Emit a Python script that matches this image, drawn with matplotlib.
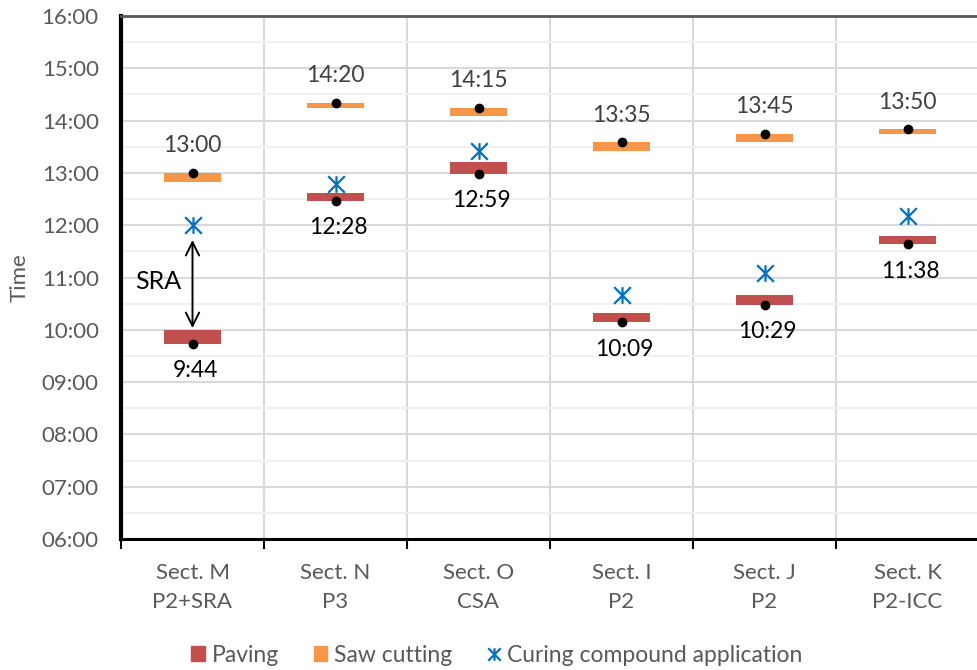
import matplotlib
matplotlib.use("Agg")
import matplotlib.pyplot as plt
from matplotlib.path import Path
from matplotlib.lines import Line2D
from matplotlib.patches import Patch

plt.rcParams['font.family'] = ['Lato', 'DejaVu Sans']

sections = ['Sect. M\nP2+SRA', 'Sect. N\nP3', 'Sect. O\nCSA', 'Sect. I\nP2', 'Sect. J\nP2', 'Sect. K\nP2-ICC']
paving = ['9:44', '12:28', '12:59', '10:09', '10:29', '11:38']
paving_top = ['10:00', '12:37', '13:12', '10:19', '10:40', '11:48']
saw = ['13:00', '14:20', '14:15', '13:35', '13:45', '13:50']
saw_bottom = ['12:50', '14:15', '14:05', '13:25', '13:35', '13:45']
curing = ['12:00', '12:47', '13:25', '10:40', '11:05', '12:11']
y_ticks = ['06:00', '07:00', '08:00', '09:00', '10:00', '11:00', '12:00',
           '13:00', '14:00', '15:00', '16:00']


def hours(s):
    h, m = s.split(':')
    return int(h) + int(m) / 60


def main():
    fig = plt.figure(figsize=(9.77, 6.7), dpi=100)
    ax = fig.add_axes([121 / 977, 131 / 670, 858 / 977, 523 / 670])

    x = [i + 0.5 for i in range(len(sections))]
    pv = [hours(s) for s in paving]
    pt = [hours(s) for s in paving_top]
    sw = [hours(s) for s in saw]
    sb = [hours(s) for s in saw_bottom]
    cu = [hours(s) for s in curing]

    red = '#C0504D'
    orange = '#F79646'
    blue = '#0070C0'

    ax.bar(x, [t - b for t, b in zip(pt, pv)], bottom=pv, width=0.4, color=red, zorder=3)
    ax.bar(x, [t - b for t, b in zip(sw, sb)], bottom=sb, width=0.4, color=orange, zorder=3)

    star = Path([(0, -1), (0, 1), (-1, -1), (1, 1), (-1, 1), (1, -1)],
                [Path.MOVETO, Path.LINETO, Path.MOVETO, Path.LINETO, Path.MOVETO, Path.LINETO])
    ax.plot(x, cu, ls='none', marker=star, ms=12, mew=1.6, mec=blue, mfc='none', zorder=4)
    ax.plot(x, pv, ls='none', marker='o', ms=6, color='black', zorder=5)
    ax.plot(x, sw, ls='none', marker='o', ms=6, color='black', zorder=5)

    for xi, v, s in zip(x, sw, saw):
        ax.annotate(s, (xi, v), xytext=(0, 12), textcoords='offset points',
                    ha='center', va='bottom', fontsize=16.5, color='#404040')
    for xi, v, s in zip(x, pv, paving):
        ax.annotate(s, (xi, v), xytext=(2, -12), textcoords='offset points',
                    ha='center', va='top', fontsize=16.5, color='black')

    # SRA arrow between curing and paving in section M
    ax.annotate('', xy=(x[0], pt[0] - 0.02), xytext=(x[0], cu[0] - 0.23),
                arrowprops=dict(arrowstyle='<->', lw=1.4, color='black',
                                mutation_scale=24), zorder=6)
    ax.text(x[0] - 0.24, (pt[0] + cu[0]) / 2 - 0.07, 'SRA', ha='center', va='center',
            fontsize=18, color='black')

    ax.set_xlim(0, 6)
    ax.set_ylim(6, 16)
    ax.set_yticks([hours(s) for s in y_ticks])
    ax.set_yticklabels(y_ticks)
    ax.set_yticks([h + 0.5 for h in range(6, 16)], minor=True)
    ax.set_xticks(range(7))
    ax.set_xticklabels([])
    ax.set_xticks(x, minor=True)
    ax.set_xticklabels(sections, minor=True, linespacing=1.6)

    ax.tick_params(axis='y', which='both', length=0, labelsize=16, labelcolor='#595959', pad=16)
    ax.tick_params(axis='x', which='major', length=7, width=1.5, color='black', direction='out')
    ax.tick_params(axis='x', which='minor', length=0, labelsize=16, labelcolor='#595959', pad=17)

    ax.grid(axis='y', which='major', color='#D9D9D9', lw=1.5, zorder=0)
    ax.grid(axis='y', which='minor', color='#F0F0F0', lw=1.5, zorder=0)
    ax.grid(axis='x', which='major', color='#D9D9D9', lw=1.5, zorder=0)
    ax.set_axisbelow(True)

    ax.spines['left'].set_linewidth(3)
    ax.spines['left'].set_color('black')
    ax.spines['bottom'].set_linewidth(2.2)
    ax.spines['bottom'].set_color('black')
    ax.spines['top'].set_color('#595959')
    ax.spines['top'].set_linewidth(2)
    ax.spines['right'].set_visible(False)

    ax.set_ylabel('Time', fontsize=16, color='#595959', labelpad=9)

    handles = [Patch(color=red, label='Paving'),
               Patch(color=orange, label='Saw cutting'),
               Line2D([], [], ls='none', marker=star, ms=9, mew=1.6, mec=blue, label='Curing compound application')]
    fig.legend(handles=handles, loc='center', bbox_to_anchor=(497 / 977, 1 - 655 / 670), ncol=3,
               frameon=False, fontsize=16.5, labelcolor='#595959', handlelength=0.6,
               handleheight=0.6, handletextpad=0.3, columnspacing=1.5)

    fig.savefig('out.png', dpi=100)


if __name__ == "__main__":
    main()
